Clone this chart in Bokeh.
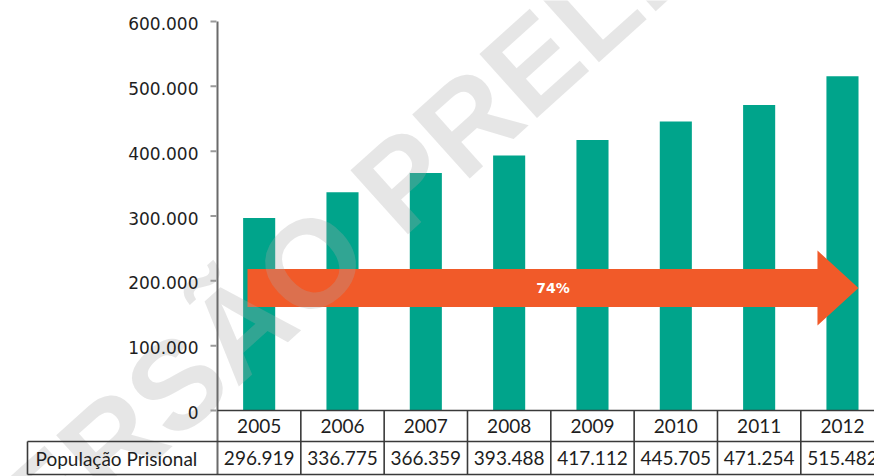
import math
from bokeh.plotting import figure
from bokeh.models import Range1d
from bokeh.core.properties import value
from bokeh.embed import file_html
from bokeh.resources import INLINE

# ---------------- data ----------------
years = ["2005", "2006", "2007", "2008", "2009", "2010", "2011", "2012"]
population = [296919, 336775, 366359, 393488, 417112, 445705, 471254, 515482]
population_labels = ["296.919", "336.775", "366.359", "393.488",
                     "417.112", "445.705", "471.254", "515.482"]
y_ticks = [0, 100000, 200000, 300000, 400000, 500000, 600000]
y_tick_labels = ["0", "100.000", "200.000", "300.000", "400.000", "500.000", "600.000"]
row_label = "População Prisional"
growth_label = "74%"
watermark_text = "VERSÃO PRELIMINAR"

# ---------------- layout ----------------
W, H = 874, 476
AXIS_PX = 217          # screen x of the value axis
ZERO_PX = 410          # screen y of value 0
TOP_PX = 21            # screen y of value 600000
CAT_PX = 83.33         # px per category
PX_Y = 600000 / (ZERO_PX - TOP_PX)   # value units per px

X0 = -0.5 - AXIS_PX / CAT_PX
X1 = X0 + W / CAT_PX
Y1 = 600000 + TOP_PX * PX_Y
Y0 = Y1 - H * PX_Y

def dx(px):
    return px / CAT_PX

def dy(px):
    return px * PX_Y

TEAL = "#00a48b"
ORANGE = "#f15a29"
LINE = "#3a3a3a"
AXIS = "#6a6a6a"
TICK = "#9a9a9a"
TXT = "#1e1e1e"

p = figure(width=W, height=H, x_range=Range1d(X0, X1), y_range=Range1d(Y0, Y1),
           output_backend="svg", toolbar_location=None,
           x_axis_location=None, y_axis_location=None,
           min_border=0, outline_line_color=None)
p.xgrid.visible = False
p.ygrid.visible = False
p.background_fill_color = "white"

n = len(years)
xs = list(range(n))
ax_x = -0.5

# bars
p.vbar(x=xs, top=population, bottom=0, width=0.385, fill_color=TEAL, line_color=None)

# growth arrow (from first to last category)
a_x0 = ax_x + dx(30)
a_tip = (n - 1) + dx(16)
a_base = a_tip - dx(41)
a_mid = 188900
b_half = dy(19)
h_half = dy(37.5)
p.patch(x=[a_x0, a_base, a_base, a_tip, a_base, a_base, a_x0],
        y=[a_mid + b_half, a_mid + b_half, a_mid + h_half, a_mid,
           a_mid - h_half, a_mid - b_half, a_mid - b_half],
        fill_color=ORANGE, line_color=None)
p.text(x=[(a_x0 + a_tip) / 2], y=[a_mid], text=[growth_label],
       text_font=value("DejaVu Sans"), text_font_style="bold", text_font_size="14px",
       text_color="white", text_align="center", text_baseline="middle")

# watermark
p.text(x=[ax_x + dx(235)], y=[dy(275)], text=[watermark_text], angle=math.radians(42),
       text_font=value("Liberation Sans"), text_font_style="bold", text_font_size="125px",
       text_color="#aaaaaa", text_alpha=0.29, text_align="center", text_baseline="middle")

# y axis (line, ticks, labels)
row1_bot = -dy(31)
row2_bot = -dy(64)
p.segment(x0=[ax_x], y0=[600000], x1=[ax_x], y1=[row2_bot], line_color=AXIS, line_width=2)
p.segment(x0=[ax_x - dx(7)] * len(y_ticks), y0=y_ticks,
          x1=[ax_x - dx(1)] * len(y_ticks), y1=y_ticks, line_color=TICK, line_width=2)
p.text(x=[ax_x] * len(y_ticks), y=y_ticks, text=y_tick_labels, x_offset=-19, y_offset=2,
       text_font=value("DejaVu Sans"), text_font_size="17px", text_color=TXT,
       text_align="right", text_baseline="middle")

# data table below the chart
right = X1 + 1
label_left = ax_x - dx(190)
p.segment(x0=[ax_x, label_left, label_left], y0=[0, row1_bot, row2_bot],
          x1=[right, right, right], y1=[0, row1_bot, row2_bot],
          line_color=LINE, line_width=1.6)
p.segment(x0=[ax_x + k for k in range(1, n + 1)], y0=[0] * n,
          x1=[ax_x + k for k in range(1, n + 1)], y1=[row2_bot] * n,
          line_color=LINE, line_width=1.6)
p.segment(x0=[label_left], y0=[row1_bot], x1=[label_left], y1=[row2_bot],
          line_color=LINE, line_width=1.6)

p.text(x=xs, y=[row1_bot / 2] * n, text=years,
       text_font=value("Lato"), text_font_size="19px", text_color=TXT,
       text_align="center", text_baseline="middle")
p.text(x=xs, y=[(row1_bot + row2_bot) / 2] * n, text=population_labels,
       text_font=value("Lato"), text_font_size="19px", text_color=TXT,
       text_align="center", text_baseline="middle")
p.text(x=[label_left], y=[(row1_bot + row2_bot) / 2], text=[row_label], x_offset=8,
       text_font=value("Lato"), text_font_size="19px", text_color=TXT,
       text_align="left", text_baseline="middle")

open("out.html", "w").write(file_html(p, INLINE))
